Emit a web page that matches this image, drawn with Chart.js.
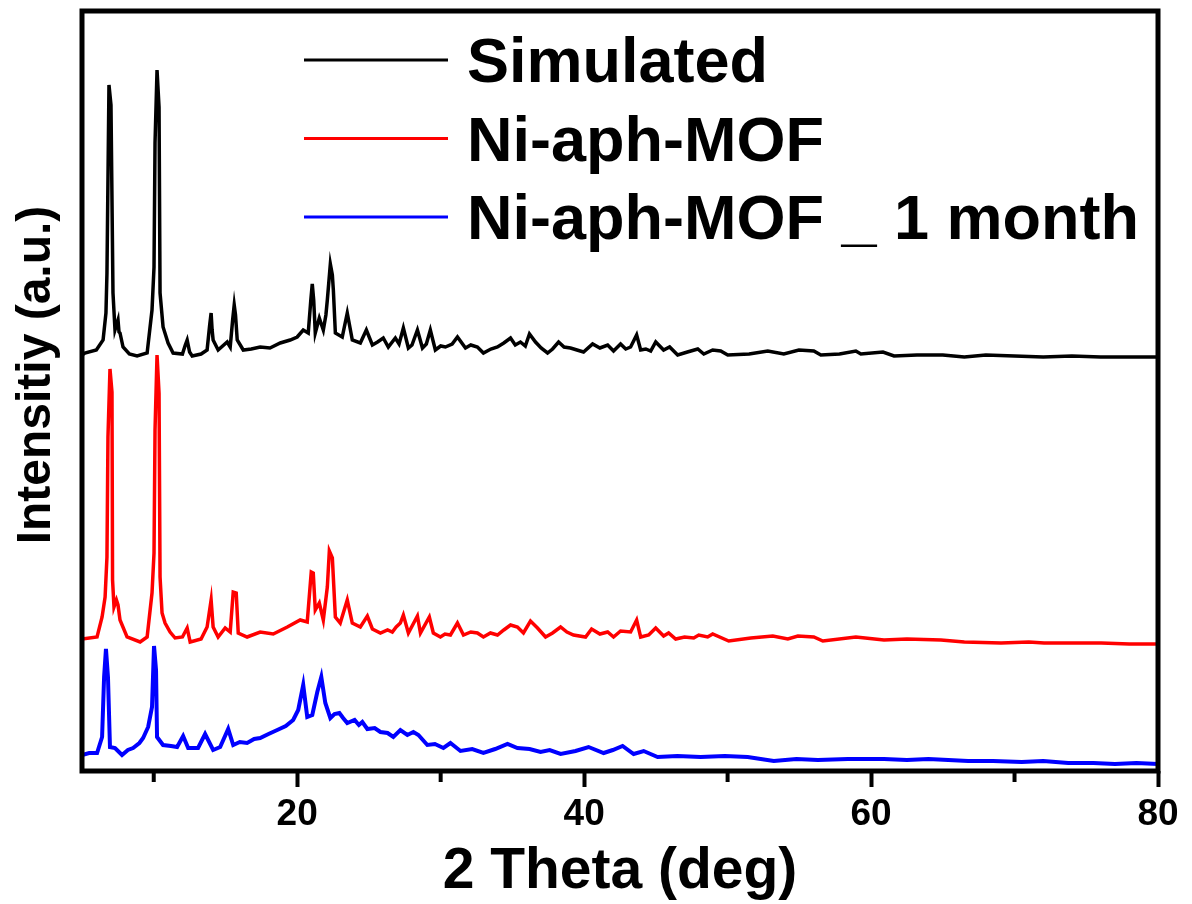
<!DOCTYPE html>
<html>
<head>
<meta charset="utf-8">
<script src="https://cdn.jsdelivr.net/npm/chart.js@4.4.1/dist/chart.umd.min.js"></script>
<style>
  html, body { margin: 0; padding: 0; background: #fff; }
</style>
</head>
<body>
<canvas id="xrd" width="1192" height="904"></canvas>
<script>
const seriesLabels = ['Simulated', 'Ni-aph-MOF', 'Ni-aph-MOF _ 1 month'];
const seriesColors = ['#000000', '#ff0000', '#0000ff'];
const seriesWidths = [3.5, 3.5, 4];
const majorTicks = [20, 40, 60, 80];
const minorTicks = [10, 30, 50, 70];

// [2 theta, intensity (a.u., stacked offsets included)]
const simulated = [
  [5.0,415],[5.2,417],[6.0,420],[6.47,430],[6.67,457],[6.74,497],[6.88,685],[7.02,665],[7.16,477],[7.30,440],
  [7.51,450],[7.58,438],[7.65,437],[7.86,423],[8.3,416],[8.84,414],[9.54,417],[9.88,460],[10.02,503],[10.09,627],
  [10.23,700],[10.37,663],[10.44,477],[10.65,443],[11.0,427],[11.35,417],[12.0,416],[12.2,425],[12.33,430],[12.5,418],
  [12.68,414],[13.3,416],[13.72,420],[13.9,445],[14.0,457],[14.07,440],[14.14,430],[14.49,420],[15.12,428],[15.33,423],
  [15.5,450],[15.61,465],[15.7,455],[15.82,430],[16.24,420],[16.8,421],[17.42,423],[18.1,422],[18.82,427],[19.51,430],
  [20.0,433],[20.42,440],[20.77,437],[20.95,470],[21.05,486],[21.15,470],[21.26,437],[21.54,452],[21.82,440],[22.0,455],
  [22.10,470],[22.31,506],[22.45,495],[22.52,480],[22.66,437],[23.14,433],[23.49,457],[23.84,430],[24.40,427],[24.82,440],
  [25.24,425],[25.6,428],[26.0,432],[26.35,423],[26.84,432],[27.1,426],[27.40,442],[27.75,422],[28.0,425],[28.38,440],
  [28.73,422],[29.0,426],[29.28,440],[29.63,420],[30.0,424],[30.33,423],[30.8,426],[31.17,433],[31.73,422],[32.1,425],
  [32.56,423],[32.98,417],[33.5,421],[33.96,423],[34.4,427],[34.87,432],[35.2,425],[35.56,428],[35.9,424],[36.19,436],
  [36.61,428],[37.0,422],[37.45,417],[37.8,421],[38.22,428],[38.6,423],[39.05,422],[39.5,420],[39.96,418],[40.59,426],
  [41.1,422],[41.64,425],[42.05,419],[42.54,426],[42.9,421],[43.24,423],[43.66,435],[43.94,420],[44.3,421],[44.64,419],
  [44.99,428],[45.54,420],[45.96,423],[46.52,415],[47.2,418],[47.92,421],[48.34,416],[48.96,420],[49.52,419],[50.01,415],
  [51.5,416],[52.8,419],[53.92,416],[54.97,420],[56.01,419],[56.50,415],[57.8,416],[58.94,419],[59.29,416],[60.83,418],
  [61.6,414],[63.2,415],[65.0,415],[66.5,413],[68.0,415],[70.0,414],[72.0,413],[74.0,414],[76.0,413],[78.0,413],
  [80.0,413]
];

const niMof = [
  [5.0,131],[6.05,133],[6.40,153],[6.61,173],[6.74,213],[6.81,333],[6.95,401],[7.09,378],[7.13,190],[7.23,163],
  [7.40,170],[7.51,165],[7.65,150],[8.14,133],[9.05,128],[9.54,133],[9.88,177],[10.02,217],[10.09,340],[10.23,415],
  [10.37,377],[10.44,193],[10.58,157],[10.79,147],[11.14,138],[11.49,132],[12.0,133],[12.33,142],[12.54,128],[13.3,131],
  [13.72,143],[14.0,170],[14.14,143],[14.49,133],[14.98,142],[15.33,138],[15.54,178],[15.75,177],[15.89,137],[16.51,133],
  [17.42,138],[18.33,136],[19.31,143],[20.21,150],[20.70,148],[20.98,198],[21.12,197],[21.26,160],[21.54,167],[21.82,150],
  [22.10,183],[22.24,219],[22.45,212],[22.66,153],[23.00,147],[23.49,170],[23.84,147],[24.40,143],[24.89,154],[25.24,141],
  [25.80,137],[26.3,140],[26.63,138],[26.9,143],[27.19,147],[27.40,155],[27.75,137],[28.38,154],[28.59,137],[29.21,153],
  [29.49,137],[29.98,133],[30.3,136],[30.68,135],[31.17,147],[31.59,135],[32.1,138],[32.56,137],[32.98,133],[33.47,137],
  [33.96,135],[34.4,140],[34.87,145],[35.35,143],[35.77,137],[36.26,149],[36.75,142],[37.31,133],[37.8,137],[38.36,143],
  [38.8,138],[39.26,135],[40.10,133],[40.52,141],[41.1,136],[41.64,138],[42.05,133],[42.54,139],[43.24,138],[43.66,150],
  [43.94,133],[44.50,135],[44.99,142],[45.54,134],[45.89,137],[46.38,131],[47.0,133],[47.64,132],[47.99,135],[48.61,133],
  [48.96,136],[50.08,129],[51.62,132],[53.15,134],[54.20,131],[54.90,134],[56.01,133],[56.64,129],[58.94,133],[60.90,130],
  [62.5,131],[64.87,130],[66.5,128],[69.06,127],[71.0,128],[72.06,127],[74.5,127],[76.04,127],[78.0,126],[80.0,126]
];

const niMofMonth = [
  [5.0,15],[5.5,17],[6.05,17],[6.40,33],[6.54,93],[6.67,121],[6.81,93],[6.95,23],[7.30,22],[7.79,15],
  [8.2,20],[8.56,22],[9.0,27],[9.26,32],[9.61,43],[9.88,63],[10.02,124],[10.16,100],[10.23,33],[10.65,25],
  [11.2,24],[11.63,23],[12.05,34],[12.40,22],[13.09,22],[13.58,36],[14.14,20],[14.63,23],[15.19,41],[15.54,25],
  [16.0,28],[16.51,27],[17.0,31],[17.42,32],[18.0,36],[18.61,40],[19.2,44],[19.72,50],[20.07,60],[20.42,85],
  [20.70,53],[21.05,55],[21.40,78],[21.68,93],[21.96,67],[22.31,52],[22.6,56],[22.94,57],[23.2,52],[23.49,47],
  [24.0,50],[24.3,45],[24.54,48],[24.89,41],[25.4,42],[25.80,38],[26.3,37],[26.70,33],[27.19,40],[27.68,35],
  [28.1,38],[28.45,35],[29.07,25],[29.6,26],[30.19,22],[30.68,27],[31.38,19],[32.2,21],[32.98,17],[33.8,21],
  [34.66,26],[35.35,22],[36.2,21],[36.96,18],[37.6,20],[38.36,16],[39.4,19],[40.31,23],[41.36,17],[42.0,20],
  [42.68,24],[43.45,16],[44.15,19],[45.12,13],[46.5,14],[48.12,13],[49.8,14],[51.40,13],[53.22,9],[54.8,11],
  [56.29,10],[58.38,11],[60.90,11],[62.5,10],[64.0,11],[66.76,9],[68.5,9],[70.5,8],[72.0,9],[73.74,7],
  [75.5,7],[77.0,6],[78.5,7],[80.0,6]
];

const FONT = 'Liberation Sans, Arial, sans-serif';

// frame, minor ticks, legend and axis titles
const decorations = {
  id: 'decorations',
  afterDraw(chart) {
    const { ctx, chartArea: a, scales } = chart;
    ctx.save();
    ctx.strokeStyle = '#000';
    ctx.lineWidth = 5;
    ctx.strokeRect(a.left, a.top, a.right - a.left, a.bottom - a.top);

    ctx.lineWidth = 4;
    minorTicks.forEach(v => {
      const px = scales.x.getPixelForValue(v);
      ctx.beginPath();
      ctx.moveTo(px, a.bottom);
      ctx.lineTo(px, a.bottom + 11);
      ctx.stroke();
    });

    // legend
    ctx.font = 'bold 63px ' + FONT;
    ctx.textAlign = 'left';
    ctx.textBaseline = 'alphabetic';
    chart.data.datasets.forEach((ds, i) => {
      const y = 60 + i * 78.5;
      ctx.strokeStyle = ds.borderColor;
      ctx.lineWidth = 3;
      ctx.beginPath();
      ctx.moveTo(304, y);
      ctx.lineTo(448, y);
      ctx.stroke();
      ctx.fillStyle = '#000';
      ctx.fillText(ds.label, 467, y + 22);
    });

    // axis titles
    ctx.fillStyle = '#000';
    ctx.textAlign = 'center';
    ctx.font = 'bold 57px ' + FONT;
    ctx.fillText('2 Theta (deg)', (a.left + a.right) / 2, 888);

    ctx.save();
    ctx.translate(50, 375);
    ctx.rotate(-Math.PI / 2);
    ctx.font = 'bold 48px ' + FONT;
    ctx.fillText('Intensitiy (a.u.)', 0, 0);
    ctx.restore();
    ctx.restore();
  }
};

const toPoints = arr => arr.map(p => ({ x: p[0], y: p[1] }));

new Chart(document.getElementById('xrd'), {
  type: 'line',
  data: {
    datasets: [simulated, niMof, niMofMonth].map((arr, i) => ({
      label: seriesLabels[i],
      data: toPoints(arr),
      borderColor: seriesColors[i],
      borderWidth: seriesWidths[i],
      pointRadius: 0,
      tension: 0,
      fill: false
    }))
  },
  options: {
    responsive: false,
    devicePixelRatio: 1,
    animation: false,
    layout: { padding: { left: 82, top: 11, right: 34, bottom: 0 } },
    plugins: {
      legend: { display: false },
      tooltip: { enabled: false }
    },
    scales: {
      x: {
        type: 'linear',
        min: 5,
        max: 80,
        afterBuildTicks: s => { s.ticks = majorTicks.map(v => ({ value: v })); },
        afterFit: s => { s.height = 133; },
        grid: { drawOnChartArea: false, drawTicks: true, tickLength: 16, tickWidth: 4, tickColor: '#000' },
        border: { display: false },
        ticks: {
          color: '#000',
          padding: 6,
          maxRotation: 0,
          autoSkip: false,
          font: { family: FONT, size: 37, weight: 'bold' }
        }
      },
      y: { display: false, min: -1, max: 759 }
    }
  },
  plugins: [decorations]
});
</script>
</body>
</html>
